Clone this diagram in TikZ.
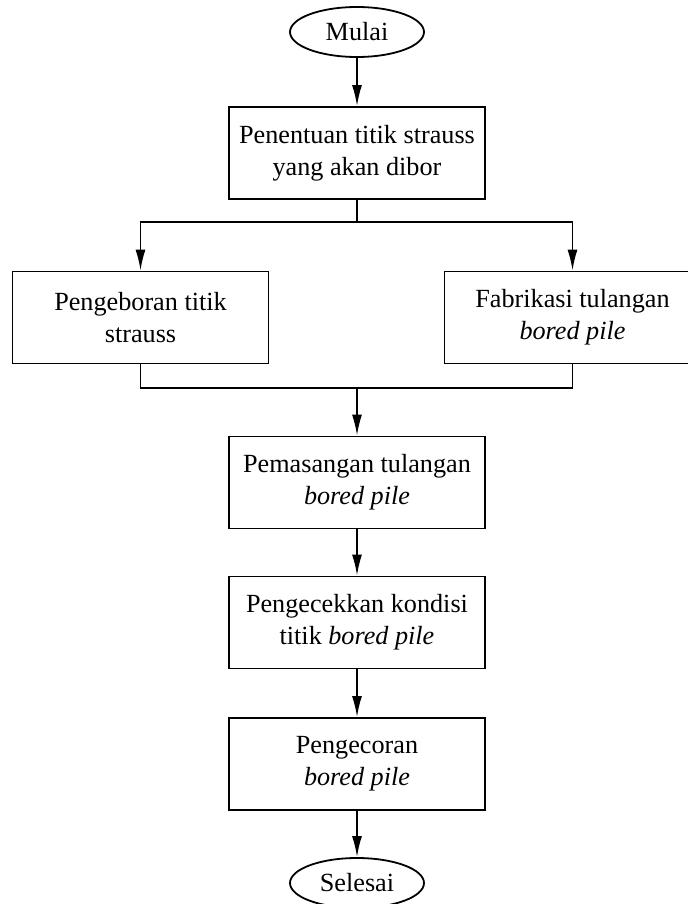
\documentclass[tikz,border=0pt]{standalone}
\usepackage{fontspec}
\setmainfont{Liberation Serif}
\usepackage{tikz}
\usetikzlibrary{shapes,arrows,arrows.meta,positioning,calc}

\tikzset{
  proses/.style={draw, line width=0.9pt, minimum width=128pt, minimum height=46pt,
    align=center, inner sep=2pt, font=\fontsize{13.1}{16}\selectfont},
  terminal/.style={draw, ellipse, line width=0.9pt, minimum width=67pt, minimum height=25pt,
    inner sep=0pt, font=\fontsize{13.1}{16}\selectfont},
  panah/.style={line width=0.9pt, -{Latex[length=10.5pt,width=5pt]}},
  garis/.style={line width=0.9pt}
}

\begin{document}
\begin{tikzpicture}[x=0.5pt, y=-0.5pt]
\clip (0,0) rectangle (688,904);
% Terminal dan proses
\node[terminal] (mulai) at (357,32) {Mulai};
\node[proses] (tentu) at (357,153) {Penentuan titik strauss\\yang akan dibor};
\node[proses] (bor) at (140.5,317.5) {Pengeboran titik\\strauss};
\node[proses] (fab) at (572.5,317.5) {Fabrikasi tulangan\\\textit{bored pile}};
\node[proses] (pasang) at (357,482.5) {Pemasangan tulangan\\\textit{bored pile}};
\node[proses] (cek) at (357,622.5) {Pengecekkan kondisi\\titik \textit{bored pile}};
\node[proses] (cor) at (357,764) {Pengecoran\\\textit{bored pile}};
\node[terminal] (selesai) at (357,883) {Selesai};

% Percabangan
\coordinate (cabang) at (357,222);
\coordinate (gabung) at (357,388);

\draw[panah] (mulai) -- (tentu);
\draw[garis] (tentu) -- (cabang);
\draw[panah] (cabang) -| (bor);
\draw[panah] (cabang) -| (fab);
\draw[garis] (bor) |- (gabung);
\draw[garis] (fab) |- (gabung);
\draw[panah] (gabung) -- (pasang);
\draw[panah] (pasang) -- (cek);
\draw[panah] (cek) -- (cor);
\draw[panah] (cor) -- (selesai);
\end{tikzpicture}
\end{document}
